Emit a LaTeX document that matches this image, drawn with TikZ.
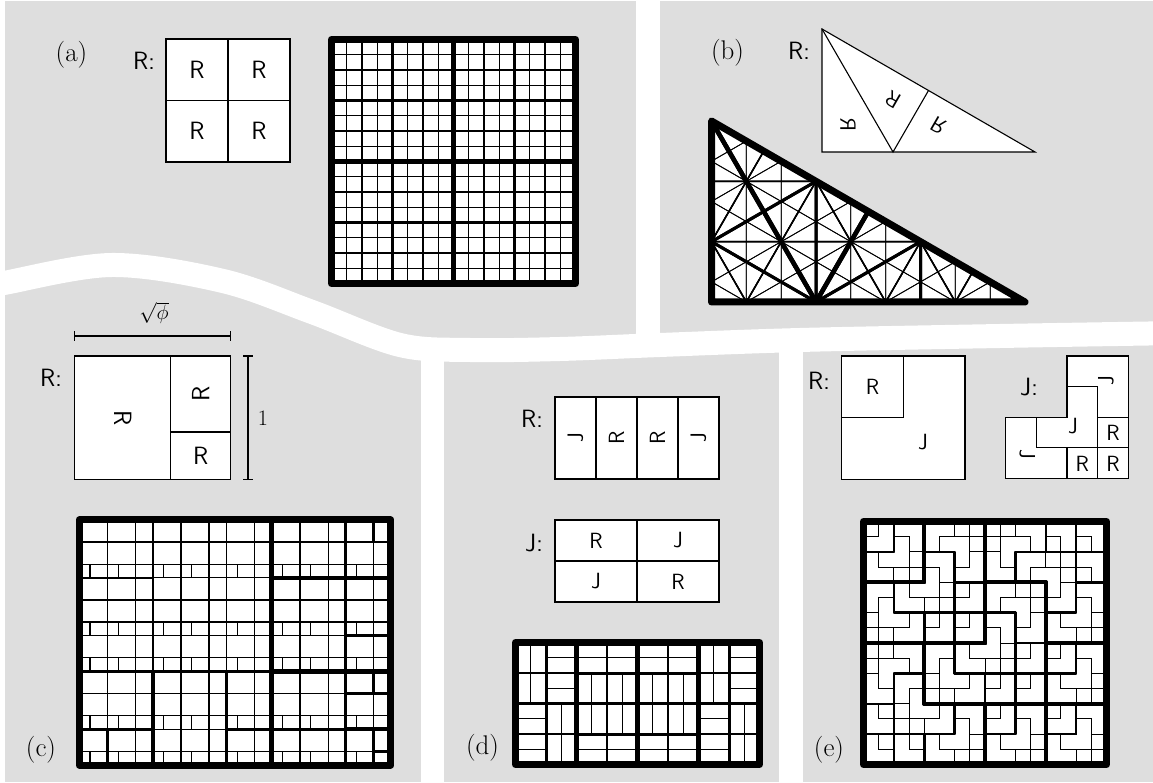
\documentclass[tikz,border=0pt]{standalone}
\usepackage{fontspec}
\definecolor{panel}{RGB}{222,222,222}
\tikzset{
  smallbox/.style={line width=1.1pt,fill=white,draw=black},
  sline/.style={line width=1.1pt},
  rlab/.style={font=\sffamily\fontsize{22}{24}\selectfont,inner sep=0pt},
  biglab/.style={font=\sffamily\fontsize{25}{27}\selectfont,inner sep=0pt},
  keylab/.style={font=\sffamily\fontsize{25}{27}\selectfont,anchor=base east,inner sep=0pt},
  plab/.style={font=\fontsize{27}{30}\selectfont,anchor=base,inner sep=0pt},
  tileline/.style={line join=round,line cap=round}
}
% line widths per depth
\newcommand\wA[1]{\ifcase#1 7\or 4.5\or 2.5\or 1.3\else 1\fi}
\newcommand\wB[1]{\ifcase#1 7\or 4.5\or 3\or 1.5\else 0.8\fi}
\newcommand\wC[1]{\ifcase#1 7\or 5\or 3.8\or 2.6\else 1.2\fi}
\newcommand\wD[1]{\ifcase#1 7\or 4.5\or 3\else 1.2\fi}
\newcommand\wE[1]{\ifcase#1 7\or 4.5\or 4\or 2.5\else 1\fi}
% (a) square -> 4 squares
\newcommand\PanATile[1]{%
  \ifnum#1<4\relax
    \edef\nd{\the\numexpr#1+1\relax}%
    \begin{scope}[scale=0.5]\expandafter\PanATile\expandafter{\nd}\end{scope}%
    \begin{scope}[shift={(0.5,0)},scale=0.5]\expandafter\PanATile\expandafter{\nd}\end{scope}%
    \begin{scope}[shift={(0,0.5)},scale=0.5]\expandafter\PanATile\expandafter{\nd}\end{scope}%
    \begin{scope}[shift={(0.5,0.5)},scale=0.5]\expandafter\PanATile\expandafter{\nd}\end{scope}%
  \fi
  \edef\lw{\wA{#1}}%
  \draw[tileline,line width=\lw pt] (0,0) -- (1,0) -- (1,1) -- (0,1) -- cycle;
}
% (b) 30-60-90 triangle -> 3 triangles
\newcommand\PanBTile[1]{%
  \ifnum#1<4\relax
    \edef\nd{\the\numexpr#1+1\relax}%
    \begin{scope}[cm={0,0.57735,0.57735,0,(0,0)}]\expandafter\PanBTile\expandafter{\nd}\end{scope}%
    \begin{scope}[cm={-0.5,0.288675,-0.288675,-0.5,(0.866025,0.5)}]\expandafter\PanBTile\expandafter{\nd}\end{scope}%
    \begin{scope}[cm={0.5,-0.288675,-0.288675,-0.5,(0.866025,0.5)}]\expandafter\PanBTile\expandafter{\nd}\end{scope}%
  \fi
  \edef\lw{\wB{#1}}%
  \draw[tileline,line width=\lw pt] (0,0) -- (1.732051,0) -- (0,1) -- cycle;
}
% (c) sqrt(phi) rectangle
\newcommand\PanCTile[2]{%
  \ifnum#2<10\relax
    \edef\nextL{\noexpand\PanCTile{\the\numexpr#1+1\relax}{\the\numexpr#2+1\relax}}%
    \edef\nextT{\noexpand\PanCTile{\the\numexpr#1+1\relax}{\the\numexpr#2+3\relax}}%
    \edef\nextB{\noexpand\PanCTile{\the\numexpr#1+1\relax}{\the\numexpr#2+4\relax}}%
    \begin{scope}[cm={0,-0.786151,0.786151,0,(0,1)}]\nextL\end{scope}%
    \begin{scope}[cm={0,0.485868,-0.485868,0,(1.272020,0.381966)}]\nextT\end{scope}%
    \begin{scope}[cm={0.381966,0,0,0.381966,(0.786151,0)}]\nextB\end{scope}%
  \fi
  \edef\lw{\wC{#1}}%
  \draw[tileline,line width=\lw pt] (0,0) -- (1.27202,0) -- (1.27202,1) -- (0,1) -- cycle;
}
% (d) 2:1 rectangles R and J
\newcommand\PanDR[1]{%
  \ifnum#1<3\relax
    \edef\nd{\the\numexpr#1+1\relax}%
    \begin{scope}[cm={0,0.5,-0.5,0,(0.5,0)}]\expandafter\PanDJ\expandafter{\nd}\end{scope}%
    \begin{scope}[cm={0,0.5,-0.5,0,(1,0)}]\expandafter\PanDR\expandafter{\nd}\end{scope}%
    \begin{scope}[cm={0,0.5,-0.5,0,(1.5,0)}]\expandafter\PanDR\expandafter{\nd}\end{scope}%
    \begin{scope}[cm={0,0.5,-0.5,0,(2,0)}]\expandafter\PanDJ\expandafter{\nd}\end{scope}%
  \fi
  \edef\lw{\wD{#1}}%
  \draw[tileline,line width=\lw pt] (0,0) -- (2,0) -- (2,1) -- (0,1) -- cycle;
}
\newcommand\PanDJ[1]{%
  \ifnum#1<3\relax
    \edef\nd{\the\numexpr#1+1\relax}%
    \begin{scope}[shift={(0,0.5)},scale=0.5]\expandafter\PanDR\expandafter{\nd}\end{scope}%
    \begin{scope}[shift={(1,0.5)},scale=0.5]\expandafter\PanDJ\expandafter{\nd}\end{scope}%
    \begin{scope}[scale=0.5]\expandafter\PanDJ\expandafter{\nd}\end{scope}%
    \begin{scope}[shift={(1,0)},scale=0.5]\expandafter\PanDR\expandafter{\nd}\end{scope}%
  \fi
  \edef\lw{\wD{#1}}%
  \draw[tileline,line width=\lw pt] (0,0) -- (2,0) -- (2,1) -- (0,1) -- cycle;
}
% (e) square R and L-shaped J
\newcommand\PanER[1]{%
  \ifnum#1<4\relax
    \edef\nd{\the\numexpr#1+1\relax}%
    \begin{scope}[shift={(0,0.5)},scale=0.5]\expandafter\PanER\expandafter{\nd}\end{scope}%
    \begin{scope}\expandafter\PanEJ\expandafter{\nd}\end{scope}%
  \fi
  \edef\lw{\wE{#1}}%
  \draw[tileline,line width=\lw pt] (0,0) -- (1,0) -- (1,1) -- (0,1) -- cycle;
}
\newcommand\PanEJ[1]{%
  \ifnum#1<4\relax
    \edef\nd{\the\numexpr#1+1\relax}%
    \begin{scope}[cm={0,0.5,-0.5,0,(1,0.5)}]\expandafter\PanEJ\expandafter{\nd}\end{scope}%
    \begin{scope}[shift={(0.25,0.25)},scale=0.5]\expandafter\PanEJ\expandafter{\nd}\end{scope}%
    \begin{scope}[cm={0,-0.5,0.5,0,(0,0.5)}]\expandafter\PanEJ\expandafter{\nd}\end{scope}%
    \begin{scope}[shift={(0.75,0.25)},scale=0.25]\expandafter\PanER\expandafter{\nd}\end{scope}%
    \begin{scope}[shift={(0.5,0)},scale=0.25]\expandafter\PanER\expandafter{\nd}\end{scope}%
    \begin{scope}[shift={(0.75,0)},scale=0.25]\expandafter\PanER\expandafter{\nd}\end{scope}%
  \fi
  \edef\lw{\wE{#1}}%
  \draw[tileline,line width=\lw pt] (0,0) -- (1,0) -- (1,1) -- (0.5,1) -- (0.5,0.5) -- (0,0.5) -- cycle;
}
\begin{document}
\begin{tikzpicture}[x=1pt,y=1pt]
\useasboundingbox (0,0) rectangle (1153,782);
% ---------- background panels ----------
\fill[panel] (5,0) rectangle (1153,781);
\draw[white,line width=24pt] plot[smooth,tension=0.55] coordinates {(-20,494) (4,499) (112,517) (223,501) (312,470) (400,437) (470,432) (560,433) (660,437) (800,442) (1000,446) (1180,449)};
\fill[white] (636,437) rectangle (660,790);
\fill[white] (421,-5) rectangle (444,437);
\fill[white] (779,-5) rectangle (803,445);

% ---------- panel (a) ----------
\node[plab] (pa) at (71.5,720.7) {(a)};
\node[keylab] (ka) at (155,712) {R:};
\draw[smallbox] (166,620) rectangle (290,743);
\draw[sline] (228,620) -- (228,743) (166,681.5) -- (290,681.5);
\node[biglab] (a1) at (197,712.25) {R};
\node[biglab] (a2) at (259,712.25) {R};
\node[biglab] (a3) at (197,650.75) {R};
\node[biglab] (a4) at (259,650.75) {R};
\begin{scope}[shift={(331.5,498.5)},scale=244]
  \fill[white] (0,0) rectangle (1,1);
  \PanATile{0}
\end{scope}

% ---------- panel (b) ----------
\node[plab] (pb) at (727.5,722) {(b)};
\node[keylab] (kb) at (810,722) {R:};
\filldraw[smallbox] (822,753) -- (822,630) -- (1035,630) -- cycle;
\draw[sline] (822,753) -- (893,630) -- (928.5,691.5);
\node[rlab,rotate=90,yscale=-1] (b1) at (848,657) {R};
\node[rlab,rotate=150] (b2) at (893,682) {R};
\node[rlab,rotate=-30,yscale=-1] (b3) at (938,657) {R};
\begin{scope}[shift={(711.5,480)},scale=181]
  \fill[white] (0,0) -- (1.732051,0) -- (0,1) -- cycle;
  \PanBTile{0}
\end{scope}

% ---------- panel (c) ----------
\node[plab] (pc) at (41,26) {(c)};
\node[keylab] (kc) at (62,395) {R:};
\draw[smallbox] (74.7,302.7) rectangle (230.7,426);
\draw[sline] (170.7,302.7) -- (170.7,426) (170.7,350) -- (230.7,350);
\node[biglab,rotate=-90] (c1) at (122.7,364.3) {R};
\node[biglab,rotate=90] (c2) at (200.7,388) {R};
\node[biglab] (c3) at (200.7,326.3) {R};
\draw[sline] (74.7,446) -- (230.7,446) (74.7,441) -- (74.7,451) (230.7,441) -- (230.7,451);
\node[font=\fontsize{21}{24}\selectfont] (phi) at (154,469) {$\sqrt{\phi}$};
\draw[sline] (248,302.7) -- (248,426) (243,302.7) -- (253,302.7) (243,426) -- (253,426);
\node[font=\fontsize{22}{24}\selectfont] (one) at (263,364) {1};
\begin{scope}[shift={(79.3,17)},scale=245]
  \fill[white] (0,0) rectangle (1.27202,1);
  \PanCTile{0}{0}
\end{scope}

% ---------- panel (d) ----------
\node[plab] (pd) at (482.5,28) {(d)};
\node[keylab] (kd1) at (543,354) {R:};
\draw[smallbox] (555,303) rectangle (719,385);
\draw[sline] (596,303) -- (596,385) (637,303) -- (637,385) (678,303) -- (678,385);
\node[rlab,rotate=90] (d1) at (575.5,344) {J};
\node[rlab,rotate=90] (d2) at (616.5,344) {R};
\node[rlab,rotate=90] (d3) at (657.5,344) {R};
\node[rlab,rotate=90] (d4) at (698.5,344) {J};
\node[keylab] (kd2) at (543,230) {J:};
\draw[smallbox] (555,180) rectangle (719,262);
\draw[sline] (637,180) -- (637,262) (555,221) -- (719,221);
\node[rlab] (d5) at (596,241.5) {R};
\node[rlab] (d6) at (678,241.5) {J};
\node[rlab] (d7) at (596,200.5) {J};
\node[rlab] (d8) at (678,200.5) {R};
\begin{scope}[shift={(515.5,17.5)},scale=122]
  \fill[white] (0,0) rectangle (2,1);
  \PanDR{0}
\end{scope}

% ---------- panel (e) ----------
\node[plab] (pe) at (829,26) {(e)};
\node[keylab] (ke1) at (830,392) {R:};
\draw[smallbox] (841.7,302.7) rectangle (965,426);
\draw[sline] (841.7,364.35) -- (903.35,364.35) -- (903.35,426);
\node[rlab] (e1) at (872.5,395.2) {R};
\node[rlab] (e2) at (923,340) {J};
\node[keylab] (ke2) at (1038,386) {J:};
\begin{scope}[shift={(1005.7,303.4)},scale=122.6]
  \filldraw[smallbox] (0,0) -- (1,0) -- (1,1) -- (0.5,1) -- (0.5,0.5) -- (0,0.5) -- cycle;
  \draw[sline] (0.5,1) -- (1,1) -- (1,0.5) -- (0.75,0.5) -- (0.75,0.75) -- (0.5,0.75) -- cycle;
  \draw[sline] (0.5,0.75) -- (0.75,0.75) -- (0.75,0.25) -- (0.25,0.25) -- (0.25,0.5) -- (0.5,0.5) -- cycle;
  \draw[sline] (0,0.5) -- (0.25,0.5) -- (0.25,0.25) -- (0.5,0.25) -- (0.5,0) -- (0,0) -- cycle;
  \draw[sline] (0.75,0.25) rectangle (1,0.5) (0.5,0) rectangle (0.75,0.25) (0.75,0) rectangle (1,0.25);
\end{scope}
\node[rlab,rotate=90] (e3) at (1106,401.5) {J};
\node[rlab] (e4) at (1073,356) {J};
\node[rlab,rotate=-90] (e5) at (1027.4,328) {J};
\node[rlab] (e6) at (1113,349.4) {R};
\node[rlab] (e7) at (1082.3,318.4) {R};
\node[rlab] (e8) at (1113,318.4) {R};
\begin{scope}[shift={(863.5,17.5)},scale=243]
  \fill[white] (0,0) rectangle (1,1);
  \PanER{0}
\end{scope}
\end{tikzpicture}
\end{document}
